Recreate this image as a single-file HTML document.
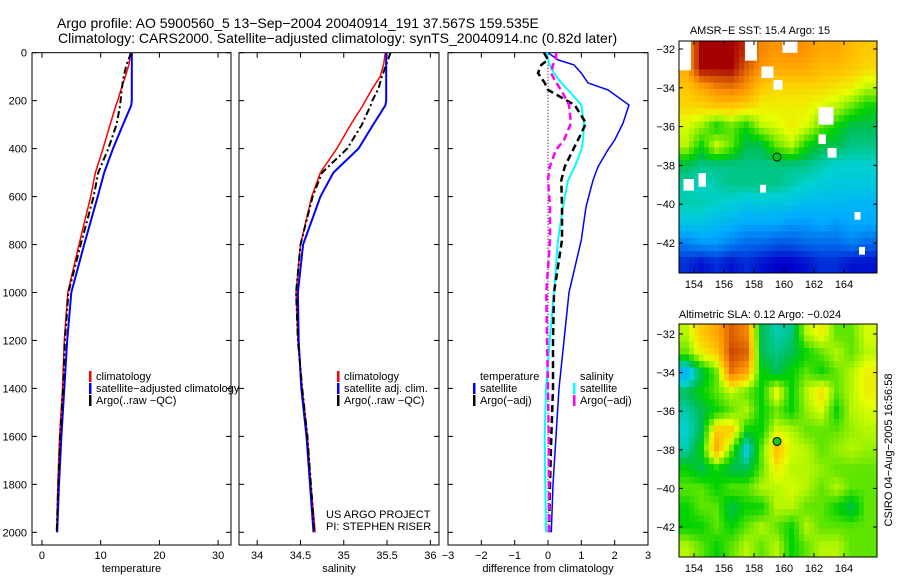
<!DOCTYPE html>
<html><head><meta charset="utf-8">
<style>
html,body{margin:0;padding:0;background:#fff;}
svg{display:block;font-family:"Liberation Sans",sans-serif;}
text{fill:#000;}
</style></head>
<body>
<svg id="fig" width="900" height="580" viewBox="0 0 900 580">
<text x="57" y="28" font-size="14">Argo profile: AO 5900560_5 13−Sep−2004 20040914_191 37.567S 159.535E</text>
<text x="58" y="43" font-size="14">Climatology: CARS2000. Satellite−adjusted climatology: synTS_20040914.nc (0.82d later)</text>
<g id="panels"></g>
<g id="maps"></g>
<text x="760" y="34" font-size="11" text-anchor="middle">AMSR−E SST: 15.4 Argo: 15</text>
<text x="760" y="318" font-size="11" text-anchor="middle">Altimetric SLA: 0.12 Argo: −0.024</text>
<text transform="translate(892,450) rotate(-90)" font-size="11" text-anchor="middle">CSIRO 04−Aug−2005 16:56:58</text>
<text x="326" y="518" font-size="11">US ARGO PROJECT</text>
<text x="326" y="530" font-size="11">PI: STEPHEN RISER</text>
</svg>
<script>
// ---------- profile data ----------
const depths = [0,50,100,150,200,220,300,400,500,600,800,1000,1200,1400,1600,1800,2000];
const tempClim = [15.1,14.8,14.2,13.5,12.9,12.6,11.6,10.4,9.1,8.3,6.3,4.4,3.8,3.5,3.0,2.7,2.5];
const tempSat  = [15.3,15.3,15.3,15.3,15.3,15.2,13.8,12.1,10.6,9.5,7.2,5.0,4.3,3.8,3.3,2.9,2.6];
const tempArgo = [15.2,14.4,13.9,13.6,13.4,13.3,12.7,11.3,9.6,8.8,6.6,4.5,3.9,3.6,3.1,2.8,2.5];
const salClim = [35.48,35.46,35.42,35.33,35.25,35.22,35.08,34.92,34.73,34.63,34.50,34.45,34.47,34.52,34.58,34.62,34.67];
const salSat  = [35.49,35.49,35.49,35.49,35.49,35.48,35.34,35.17,34.88,34.73,34.53,34.47,34.48,34.51,34.57,34.61,34.65];
const salArgo = [35.54,35.49,35.44,35.40,35.33,35.31,35.21,35.04,34.75,34.64,34.50,34.45,34.47,34.52,34.58,34.62,34.66];
const diffDepths = [0,30,51,85,126,155,218,294,364,405,476,532,643,781,1000,1200,1400,1600,1800,2000];
const dTempSat  = [0.0,0.3,0.78,1.0,1.2,1.8,2.43,2.25,2.0,1.8,1.5,1.35,1.14,1.0,0.63,0.48,0.33,0.24,0.15,0.1];
const dTempArgo = [-0.12,0.0,-0.2,-0.3,-0.1,0.0,0.8,1.14,0.9,0.75,0.5,0.4,0.42,0.42,0.18,0.15,0.15,0.1,0.06,0.03];
const dSalSat   = [-0.03,0.0,0.05,0.18,0.4,0.6,1.0,1.08,1.05,1.0,0.8,0.6,0.45,0.3,0.18,0.05,-0.06,-0.1,-0.08,-0.06];
const dSalArgo  = [0.24,0.24,0.15,0.09,0.25,0.39,0.63,0.69,0.48,0.24,0.05,0.0,0.06,0.06,-0.05,-0.03,0.0,0.02,0.03,0.03];
const depthTicks = [0,200,400,600,800,1000,1200,1400,1600,1800,2000];
const tempTicks = [0,10,20,30];
const salTicks = [34,34.5,35,35.5,36];
const diffTicks = [-3,-2,-1,0,1,2,3];
// ---------- map data (colour index 0..1), rows lat -32..-43, cols lon 153.5..165.5 ----------
const sstGrid = [
[0.75,0.95,0.95,0.95,0.9,0.8,0.78,0.8,0.78,0.75,0.75,0.72,0.7],
[0.75,0.95,0.95,0.95,0.85,0.78,0.75,0.75,0.75,0.72,0.72,0.7,0.68],
[0.7,0.75,0.8,0.82,0.78,0.7,0.68,0.68,0.68,0.68,0.66,0.65,0.6],
[0.68,0.68,0.7,0.7,0.68,0.65,0.65,0.65,0.65,0.62,0.6,0.55,0.5],
[0.62,0.58,0.5,0.55,0.5,0.6,0.62,0.65,0.62,0.55,0.5,0.45,0.45],
[0.6,0.5,0.62,0.55,0.45,0.45,0.55,0.6,0.5,0.45,0.45,0.42,0.42],
[0.45,0.42,0.42,0.42,0.42,0.42,0.42,0.42,0.42,0.4,0.38,0.38,0.38],
[0.4,0.38,0.4,0.42,0.42,0.42,0.42,0.4,0.38,0.37,0.36,0.36,0.36],
[0.4,0.4,0.38,0.37,0.35,0.36,0.35,0.35,0.33,0.33,0.33,0.32,0.32],
[0.35,0.35,0.33,0.32,0.3,0.3,0.3,0.28,0.28,0.3,0.28,0.3,0.3],
[0.25,0.28,0.28,0.25,0.22,0.22,0.2,0.2,0.22,0.22,0.22,0.25,0.22],
[0.15,0.12,0.15,0.12,0.15,0.12,0.1,0.1,0.12,0.15,0.15,0.12,0.12]];
const slaGrid = [
[0.6,0.7,0.75,0.85,0.8,0.45,0.4,0.42,0.6,0.65,0.55,0.55,0.62],
[0.55,0.65,0.7,0.88,0.85,0.45,0.42,0.45,0.5,0.55,0.6,0.55,0.6],
[0.3,0.45,0.55,0.82,0.75,0.5,0.45,0.5,0.55,0.5,0.55,0.6,0.65],
[0.45,0.5,0.55,0.6,0.55,0.5,0.65,0.5,0.6,0.68,0.55,0.6,0.65],
[0.4,0.45,0.5,0.55,0.6,0.5,0.55,0.5,0.58,0.62,0.5,0.6,0.62],
[0.38,0.45,0.7,0.7,0.5,0.5,0.62,0.6,0.55,0.55,0.55,0.58,0.6],
[0.4,0.5,0.75,0.55,0.35,0.55,0.72,0.62,0.6,0.55,0.58,0.6,0.58],
[0.5,0.45,0.5,0.45,0.45,0.55,0.65,0.6,0.6,0.58,0.55,0.55,0.55],
[0.55,0.55,0.5,0.55,0.55,0.6,0.6,0.62,0.6,0.55,0.6,0.55,0.55],
[0.5,0.55,0.55,0.45,0.5,0.5,0.6,0.6,0.55,0.55,0.5,0.45,0.55],
[0.5,0.5,0.55,0.5,0.55,0.6,0.55,0.5,0.6,0.55,0.55,0.55,0.55],
[0.6,0.55,0.5,0.55,0.6,0.55,0.6,0.5,0.55,0.6,0.6,0.55,0.55]];
const sstGaps = [[153.0,-31.6,0.8,1.5],[157.4,-31.6,0.8,1.0],[158.5,-32.9,0.8,0.6],[159.3,-33.6,0.6,0.5],[159.9,-31.6,1.0,0.6],[162.3,-35.0,1.0,0.9],[162.3,-36.4,0.5,0.5],[162.9,-37.1,0.6,0.5],[153.3,-38.7,0.7,0.6],[154.3,-38.4,0.5,0.7],[158.4,-39.0,0.4,0.4],[164.7,-40.4,0.4,0.4],[165.0,-42.2,0.4,0.4]];
const mapLonTicks = [154,156,158,160,162,164];
const mapLatTicks = [-32,-34,-36,-38,-40,-42];
const argoPos = [159.535,-37.567];

const NS='http://www.w3.org/2000/svg';
function mk(tag,attrs,parent){const e=document.createElementNS(NS,tag);for(const k in attrs)e.setAttribute(k,attrs[k]);parent.appendChild(e);return e;}
const panels=document.getElementById('panels');
const yTop=52.7, pxPerM=0.2398, yBot=545;
const yS=d=>yTop+d*pxPerM;

function panel(name,x0,x1,dmin,dmax,ticks,fmt,label,showY){
  const g=mk('g',{},panels);
  
  
  const xs=v=>x0+(v-dmin)/(dmax-dmin)*(x1-x0);
  const fr=mk('rect',{x:x0,y:yTop,width:x1-x0,height:yBot-yTop,fill:'none',stroke:'#000','stroke-width':1},g);
  
  
  ticks.forEach(t=>{const x=xs(t);
    mk('line',{x1:x,x2:x,y1:yBot,y2:yBot-5,stroke:'#000'},g);
    mk('line',{x1:x,x2:x,y1:yTop,y2:yTop+5,stroke:'#000'},g);
    const tx=mk('text',{x:x,y:559,'font-size':11,'text-anchor':'middle'},g);
    tx.textContent=fmt(t);
    
    
  });
  depthTicks.forEach(d=>{const y=yS(d);
    mk('line',{x1:x0,x2:x0+5,y1:y,y2:y,stroke:'#000'},g);
    mk('line',{x1:x1,x2:x1-5,y1:y,y2:y,stroke:'#000'},g);
    if(showY){const t=mk('text',{x:27,y:y+4,'font-size':11,'text-anchor':'end'},g);t.textContent=d;
      
      }
  });
  const xl=mk('text',{x:(x0+x1)/2,y:572,'font-size':11,'text-anchor':'middle'},g);
  xl.textContent=label;
  
  
  return {g,xs};
}
function line(p,ds,vs,color,w,dash,name){
  const pts=ds.map((d,i)=>p.xs(vs[i]).toFixed(1)+','+yS(d).toFixed(1)).join(' ');
  const l=mk('polyline',{points:pts,fill:'none',stroke:color,'stroke-width':w},p.g);
  if(dash)l.setAttribute('stroke-dasharray',dash);
  
  
}
function legend(g,x,y,items){
  items.forEach((it,i)=>{
    if(it[0]) mk('rect',{x:x,y:y+i*12-9,width:2.5,height:11,fill:it[0]},g);
    const t=mk('text',{x:x+7,y:y+i*12,'font-size':11},g);t.textContent=it[1];
    
    
  });
}
const p1=panel('temperature-panel',32,231,-1.7,32.2,tempTicks,String,'temperature',true);
line(p1,depths,tempClim,'#f00',1.5,null,'temp-climatology-line');
line(p1,depths,tempSat,'#00f',2,null,'temp-satellite-line');
line(p1,depths,tempArgo,'#000',2,'7,3,2,3','temp-argo-line');
legend(p1.g,89,380,[['#f00','climatology'],['#00f','satellite−adjusted climatology'],['#000','Argo(..raw −QC)']]);

const p2=panel('salinity-panel',239,439,33.79,36.1,salTicks,String,'salinity',false);
line(p2,depths,salClim,'#f00',1.5,null,'sal-climatology-line');
line(p2,depths,salSat,'#00f',2,null,'sal-satellite-line');
line(p2,depths,salArgo,'#000',2,'7,3,2,3','sal-argo-line');
legend(p2.g,337,380,[['#f00','climatology'],['#00f','satellite adj. clim.'],['#000','Argo(..raw −QC)']]);

const p3=panel('difference-panel',448,648,-3,3,diffTicks,v=>v<0?'−'+(-v):String(v),'difference from climatology',false);
const zl=mk('line',{x1:p3.xs(0),x2:p3.xs(0),y1:yTop,y2:yS(2000),stroke:'#000','stroke-dasharray':'1,2'},p3.g);


line(p3,diffDepths,dTempSat,'#00f',1.5,null,'diff-temp-satellite-line');
line(p3,diffDepths,dSalSat,'#0ff',2,null,'diff-sal-satellite-line');
line(p3,diffDepths,dTempArgo,'#000',2.5,'7,4','diff-temp-argo-line');
line(p3,diffDepths,dSalArgo,'#f0f',2.5,'7,4','diff-sal-argo-line');
legend(p3.g,473,380,[[null,'temperature'],['#00f','satellite'],['#000','Argo(−adj)']]);
legend(p3.g,573,380,[[null,'salinity'],['#0ff','satellite'],['#f0f','Argo(−adj)']]);

// ---------- maps ----------
const stops=[[0,[0,0,130]],[0.1,[0,0,200]],[0.2,[0,90,230]],[0.3,[0,170,255]],[0.38,[0,210,210]],[0.45,[0,190,80]],[0.5,[0,210,0]],[0.58,[150,240,0]],[0.63,[230,255,0]],[0.7,[255,200,0]],[0.78,[255,150,0]],[0.87,[210,80,0]],[0.95,[165,0,0]],[1,[160,0,0]]];
function cmap(v){v=Math.max(0,Math.min(1,v));for(let i=1;i<stops.length;i++){if(v<=stops[i][0]){const a=stops[i-1],b=stops[i],f=(v-a[0])/(b[0]-a[0]);return 'rgb('+a[1].map((c,k)=>Math.round(c+(b[1][k]-c)*f)).join(',')+')';}}return 'rgb(160,0,0)';}
function sample(grid,lon,lat){
  let c=lon-153.5, r=-32-lat; c=Math.max(0,Math.min(12,c)); r=Math.max(0,Math.min(11,r));
  const c0=Math.min(11,Math.floor(c)),r0=Math.min(10,Math.floor(r)),fc=c-c0,fr=r-r0;
  return grid[r0][c0]*(1-fc)*(1-fr)+grid[r0][c0+1]*fc*(1-fr)+grid[r0+1][c0]*(1-fc)*fr+grid[r0+1][c0+1]*fc*fr;
}
const maps=document.getElementById('maps');
function drawMap(name,grid,x0,x1,y0,y1,latRef,latPx,gaps,filledDot){
  const g=mk('g',{},maps);
  
  
  const lx=lon=>694+(lon-154)*15, ly=lat=>latRef+(-32-lat)*latPx;
  const lonMin=153+(x0-679)/15, step=1/3;
  const cells=mk('g',{'shape-rendering':'crispEdges'},g);
  
  
  for(let lat=-31.4; lat>-43.8; lat-=step){
    for(let lon=lonMin; lon<166.3; lon+=step){
      const xa=Math.max(x0,lx(lon)),xb=Math.min(x1,lx(lon+step)),ya=Math.max(y0,ly(lat)),yb=Math.min(y1,ly(lat-step));
      if(xb<=xa||yb<=ya)continue;
      mk('rect',{x:xa.toFixed(1),y:ya.toFixed(1),width:(xb-xa+0.3).toFixed(1),height:(yb-ya+0.3).toFixed(1),fill:cmap(sample(grid,lon+step/2,lat-step/2))},cells);
    }
  }
  (gaps||[]).forEach(q=>{const r=mk('rect',{x:lx(q[0]),y:Math.max(y0,ly(q[1])),width:q[2]*15,height:q[3]*latPx,fill:'#fff'},g);
    
    });
  mk('rect',{x:x0,y:y0,width:x1-x0,height:y1-y0,fill:'none',stroke:'#000'},g);
  mapLonTicks.forEach(t=>{const x=lx(t);mk('line',{x1:x,x2:x,y1:y1,y2:y1-4,stroke:'#000'},g);mk('line',{x1:x,x2:x,y1:y0,y2:y0+4,stroke:'#000'},g);
    const tx=mk('text',{x:x,y:y1+15,'font-size':11,'text-anchor':'middle'},g);tx.textContent=t;
    
    });
  mapLatTicks.forEach(t=>{const y=ly(t);mk('line',{x1:x0,x2:x0+4,y1:y,y2:y,stroke:'#000'},g);mk('line',{x1:x1,x2:x1-4,y1:y,y2:y,stroke:'#000'},g);
    const tx=mk('text',{x:x0-4,y:y+4,'font-size':11,'text-anchor':'end'},g);tx.textContent='−'+(-t);
    
    });
  const c=mk('circle',{cx:lx(argoPos[0]),cy:ly(argoPos[1]),r:4,fill:filledDot?'#1c1':'none',stroke:'#000','stroke-width':1},g);
  
  
}
drawMap('sst-map',sstGrid,679,877,41,273,49,19.4,sstGaps,false);
drawMap('sla-map',slaGrid,679,877,324,557,334,19.3,[],true);
</script>
</body></html>
